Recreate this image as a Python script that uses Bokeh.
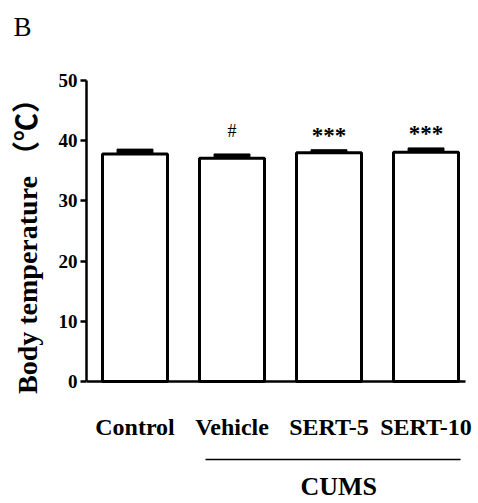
from bokeh.plotting import figure
from bokeh.models import Range1d, FixedTicker, ColumnDataSource
from bokeh.core.properties import value
from bokeh.embed import file_html
from bokeh.resources import INLINE

# ---- data ----
categories = ["Control", "Vehicle", "SERT-5", "SERT-10"]
means = [37.8, 37.1, 38.0, 38.1]
errors = [0.8, 0.7, 0.5, 0.7]
marks = ["", "#", "***", "***"]
y_ticks = [0, 10, 20, 30, 40, 50]
group_label = "CUMS"
group_members = ["Vehicle", "SERT-5", "SERT-10"]
panel_letter = "B"
y_label = "Body temperature （℃）"

FONT = "Liberation Serif"
xs = list(range(len(categories)))

# an empty second line lifts the panel letter towards the top of the page
p = figure(width=478, height=503, output_backend="svg", toolbar_location=None,
           x_range=Range1d(-0.5, 3.51), y_range=Range1d(-20.27, 50),
           min_border_left=86, min_border_right=3, min_border_top=80,
           min_border_bottom=0, title=panel_letter + "\n\u00a0")
p.outline_line_color = None
p.grid.visible = False
p.background_fill_color = "white"
p.title.text_font = FONT
p.title.text_font_style = "normal"
p.title.text_font_size = "27px"
p.title.text_line_height = 1.3
p.title.text_color = "black"
p.title.align = "left"
p.title.vertical_align = "bottom"
p.title.offset = -73
p.title.standoff = 0

# error blocks
tops = [m + e for m, e in zip(means, errors)]
src = ColumnDataSource(dict(x=xs, m=means, t=tops, mark=marks))
p.vbar(x="x", bottom="m", top="t", width=0.37, source=src,
       fill_color="black", line_color="black", line_width=1)
# bars
p.vbar(x="x", top="m", bottom=0, width=0.67, source=src,
       fill_color="white", line_color="black", line_width=3)

# x baseline (axis line at y = 0)
p.segment(x0=[-0.5], y0=[0], x1=[3.407], y1=[0], line_color="black", line_width=2.5)

# significance marks
hash_src = ColumnDataSource(dict(x=[x for x, k in zip(xs, marks) if k == "#"],
                                 y=[t for t, k in zip(tops, marks) if k == "#"],
                                 s=[k for k in marks if k == "#"]))
star_src = ColumnDataSource(dict(x=[x for x, k in zip(xs, marks) if k.startswith("*")],
                                 y=[t for t, k in zip(tops, marks) if k.startswith("*")],
                                 s=[k for k in marks if k.startswith("*")]))
p.text(x="x", y="y", text="s", source=hash_src, text_font=value(FONT),
       text_font_size="18px", text_align="center", text_baseline="alphabetic",
       y_offset=-23, text_color="black")
p.text(x="x", y="y", text="s", source=star_src, text_font=value(FONT),
       text_font_size="23px", text_font_style="bold", text_align="center",
       text_baseline="alphabetic", y_offset=-14, text_color="black")

# category labels under the baseline
cat_src = ColumnDataSource(dict(x=xs, y=[-7.64] * len(xs), s=categories))
p.text(x="x", y="y", text="s", source=cat_src, text_font=value(FONT),
       text_font_size="24px", text_font_style="bold", text_align="center",
       text_baseline="middle", text_color="black")

# group bracket
gi = [categories.index(g) for g in group_members]
p.segment(x0=[min(gi) - 0.273], y0=[-12.96], x1=[max(gi) + 0.356], y1=[-12.96],
          line_color="black", line_width=1.5)
p.text(x=[(min(gi) + max(gi)) / 2 + 0.1], y=[-17.4], text=[group_label],
       text_font=value(FONT), text_font_size="26px", text_font_style="bold",
       text_align="center", text_baseline="middle", text_color="black")

# axes
p.xaxis.visible = False
yax = p.yaxis[0]
yax.bounds = (0, 50)
yax.ticker = FixedTicker(ticks=y_ticks)
yax.minor_tick_line_color = None
yax.major_tick_in = 0
yax.major_tick_out = 6
yax.major_tick_line_width = 2.5
yax.axis_line_width = 2.5
yax.major_label_text_font = FONT
yax.major_label_text_font_style = "bold"
yax.major_label_text_font_size = "19px"
yax.major_label_text_color = "black"
yax.major_label_standoff = 3
# leading no-break spaces lift the label so it centres on the 0-50 span
yax.axis_label = "\u00a0" * 15 + y_label
yax.axis_label_text_font = "'Liberation Serif', 'Noto Sans CJK SC'"
yax.axis_label_text_font_style = "bold"
yax.axis_label_text_font_size = "28px"
yax.axis_label_text_color = "black"
yax.axis_label_standoff = 13

open("out.html", "w").write(file_html(p, INLINE))
